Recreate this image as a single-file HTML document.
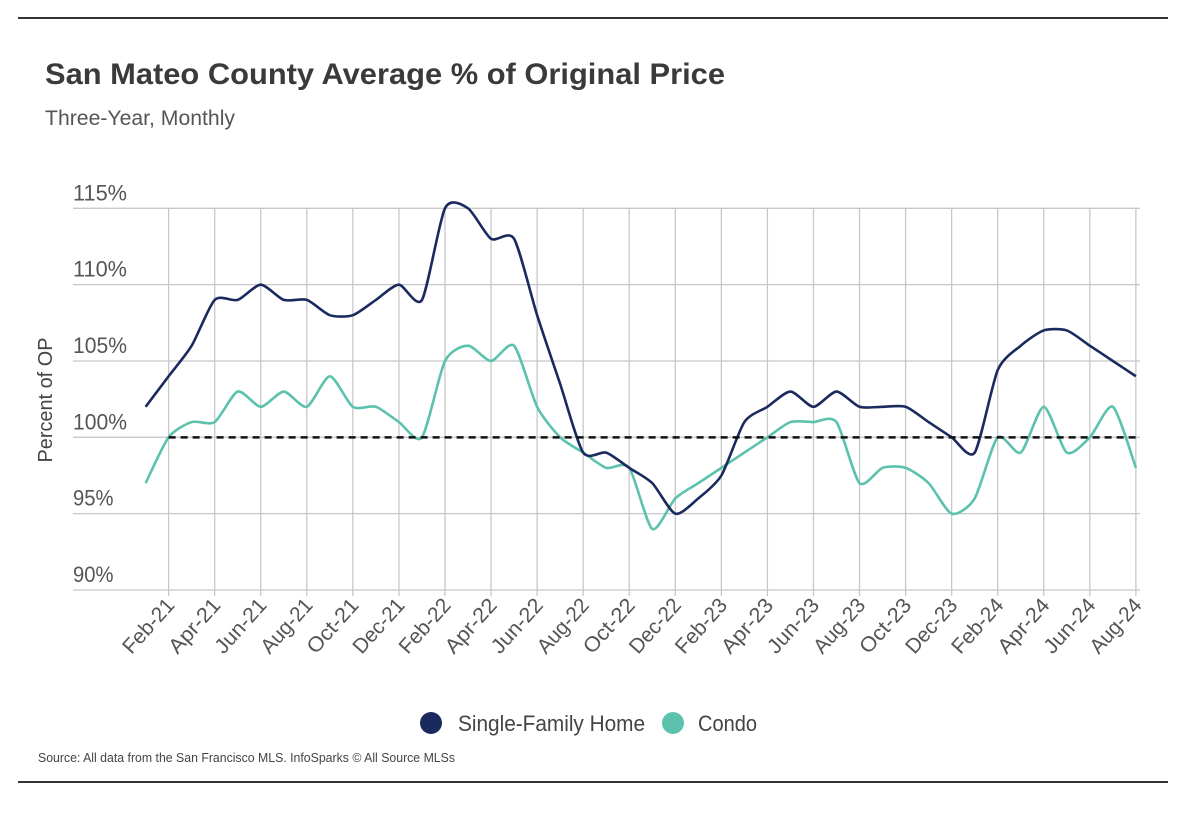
<!DOCTYPE html>
<html><head><meta charset="utf-8">
<style>
body{margin:0;background:#fff;}
svg{display:block;font-family:"Liberation Sans",sans-serif;}
</style></head>
<body>
<svg id="chart" width="1178" height="822" viewBox="0 0 1178 822">
<line x1="18" y1="18" x2="1168" y2="18" stroke="#333" stroke-width="2"/>
<line x1="18" y1="782" x2="1168" y2="782" stroke="#333" stroke-width="2"/>
<text x="45" y="84" font-size="30" font-weight="bold" fill="#3a3a3a" textLength="680" lengthAdjust="spacingAndGlyphs">San Mateo County Average % of Original Price</text>
<text x="45" y="125" font-size="21" fill="#555" textLength="190" lengthAdjust="spacingAndGlyphs">Three-Year, Monthly</text>
<text transform="translate(52,400) rotate(-90)" text-anchor="middle" font-size="20" fill="#444" textLength="125" lengthAdjust="spacingAndGlyphs">Percent of OP</text>
<g id="grid"></g>
<g id="lines"></g>
<g id="xlabels"></g>
<circle cx="431" cy="723" r="11" fill="#1b2a5e"/>
<text x="458" y="731" font-size="22" fill="#444" textLength="187" lengthAdjust="spacingAndGlyphs">Single-Family Home</text>
<circle cx="673" cy="723" r="11" fill="#5cc2ae"/>
<text x="698" y="731" font-size="22" fill="#444" textLength="59" lengthAdjust="spacingAndGlyphs">Condo</text>
<text x="38" y="762" font-size="13" fill="#444" textLength="417" lengthAdjust="spacingAndGlyphs">Source:  All data from the San Francisco MLS. InfoSparks © All Source MLSs</text>
</svg>
<script>
const months = ["Jan-21","Feb-21","Mar-21","Apr-21","May-21","Jun-21","Jul-21","Aug-21","Sep-21","Oct-21","Nov-21","Dec-21","Jan-22","Feb-22","Mar-22","Apr-22","May-22","Jun-22","Jul-22","Aug-22","Sep-22","Oct-22","Nov-22","Dec-22","Jan-23","Feb-23","Mar-23","Apr-23","May-23","Jun-23","Jul-23","Aug-23","Sep-23","Oct-23","Nov-23","Dec-23","Jan-24","Feb-24","Mar-24","Apr-24","May-24","Jun-24","Jul-24","Aug-24"];
const sfhValues = [102,104,106,109,109,110,109,109,108,108,109,110,109,115,115,113,113,108,103.5,99,99,98,97,95,96,97.5,101,102,103,102,103,102,102,102,101,100,99,104.4,106,107,107,106,105,104];
const condoValues = [97,100,101,101,103,102,103,102,104,102,102,101,100,105,106,105,106,102,100,99,98,98,94,96,97,98,99,100,101,101,101,97,98,98,97,95,96,100,99,102,99,100,102,98];
const yTicks = [90,95,100,105,110,115];
const yTickLabels = ["90%","95%","100%","105%","110%","115%"];
const refValue = 100;

const NS="http://www.w3.org/2000/svg";
const x0=145.6, dx=23.03;
function xs(i){return x0+i*dx;}
function ys(v){return 590-(v-90)*(590-208.3)/25;}
const grid=document.getElementById('grid'), lines=document.getElementById('lines'), xl=document.getElementById('xlabels');
function mk(tag,attrs,parent){const e=document.createElementNS(NS,tag);for(const k in attrs)e.setAttribute(k,attrs[k]);parent.appendChild(e);return e;}
yTicks.forEach((t,i)=>{
  const l=mk('line',{x1:73,x2:1140,y1:ys(t),y2:ys(t),stroke:'#c8c8c8','stroke-width':1.3},grid);
  
  
  const tx=mk('text',{x:73,y:ys(t)-8,'font-size':22,fill:'#555',textLength:yTickLabels[i].length*13.5,lengthAdjust:'spacingAndGlyphs'},grid);
  tx.textContent=yTickLabels[i];
  
  
});
months.forEach((m,i)=>{
  if(i%2!==1) return;
  const x=xs(i);
  const l=mk('line',{x1:x,x2:x,y1:ys(115),y2:ys(90)+6,stroke:'#c8c8c8','stroke-width':1.3},grid);
  
  
  const tx=mk('text',{transform:`translate(${x+7},${ys(90)+16}) rotate(-48)`,'text-anchor':'end','font-size':21,fill:'#555',textLength:66,lengthAdjust:'spacingAndGlyphs'},xl);
  tx.textContent=m;
  
  
});
function pathFor(vals){
  const p=vals.map((v,i)=>[xs(i),ys(v)]);
  let d=`M${p[0][0]},${p[0][1]}`;
  const t=0.12;
  for(let i=0;i<p.length-1;i++){
    const a=p[Math.max(i-1,0)],b=p[i],c=p[i+1],e=p[Math.min(i+2,p.length-1)];
    const c1=[b[0]+(c[0]-a[0])*t,b[1]+(c[1]-a[1])*t];
    const c2=[c[0]-(e[0]-b[0])*t,c[1]-(e[1]-b[1])*t];
    d+=` C${c1[0]},${c1[1]} ${c2[0]},${c2[1]} ${c[0]},${c[1]}`;
  }
  return d;
}
const ref=mk('line',{x1:xs(1),x2:1140,y1:ys(refValue),y2:ys(refValue),stroke:'#111','stroke-width':2.5,'stroke-dasharray':'7,5'},lines);


const condo=mk('path',{d:pathFor(condoValues),fill:'none',stroke:'#5cc2ae','stroke-width':2.6},lines);


const sfh=mk('path',{d:pathFor(sfhValues),fill:'none',stroke:'#1b2a5e','stroke-width':2.6},lines);


lines.appendChild(ref);
</script>
</body></html>
